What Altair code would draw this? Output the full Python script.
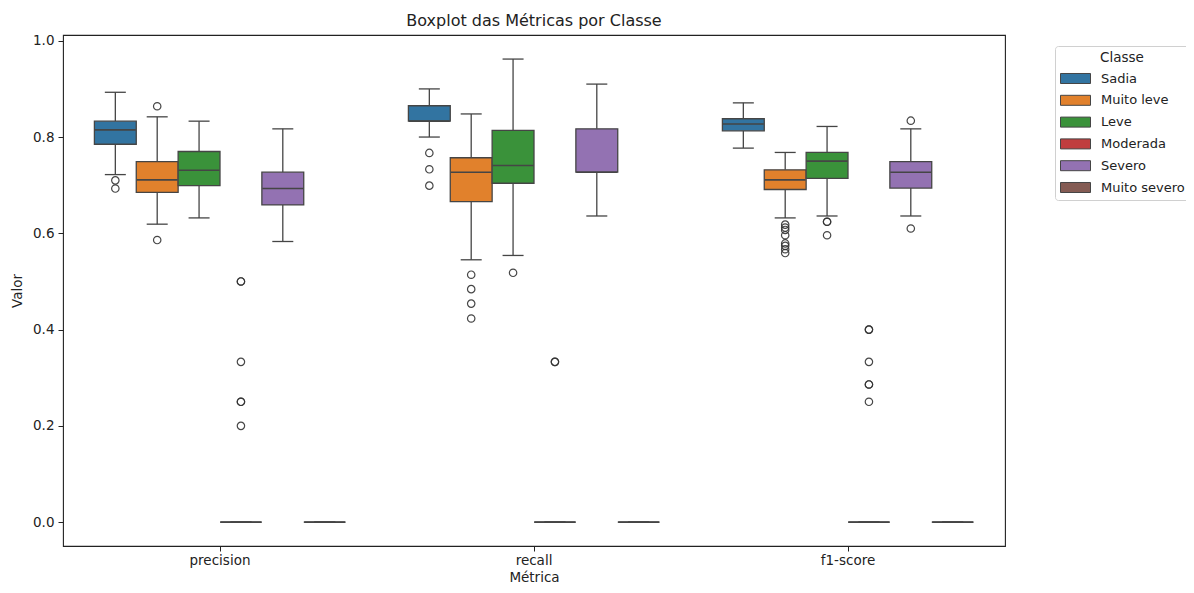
import altair as alt
import pandas as pd

metrics = ["precision", "recall", "f1-score"]
classes = ["Sadia", "Muito leve", "Leve", "Moderada", "Severo", "Muito severo"]
colors = ["#3274a1", "#e1812c", "#3a923a", "#c03d3e", "#9372b2", "#845b53"]

# box statistics per metric, in class order
q1 = {
    "precision": [0.785, 0.685, 0.699, 0.0, 0.659, 0.0],
    "recall":    [0.833, 0.666, 0.704, 0.0, 0.727, 0.0],
    "f1-score":  [0.813, 0.691, 0.714, 0.0, 0.694, 0.0],
}
median = {
    "precision": [0.815, 0.711, 0.731, 0.0, 0.693, 0.0],
    "recall":    [0.833, 0.727, 0.741, 0.0, 0.727, 0.0],
    "f1-score":  [0.827, 0.711, 0.750, 0.0, 0.727, 0.0],
}
q3 = {
    "precision": [0.833, 0.749, 0.770, 0.0, 0.727, 0.0],
    "recall":    [0.865, 0.757, 0.814, 0.0, 0.817, 0.0],
    "f1-score":  [0.838, 0.732, 0.768, 0.0, 0.749, 0.0],
}
whisker_low = {
    "precision": [0.722, 0.619, 0.632, 0.0, 0.583, 0.0],
    "recall":    [0.800, 0.545, 0.554, 0.0, 0.636, 0.0],
    "f1-score":  [0.777, 0.632, 0.636, 0.0, 0.636, 0.0],
}
whisker_high = {
    "precision": [0.893, 0.842, 0.833, 0.0, 0.817, 0.0],
    "recall":    [0.900, 0.848, 0.962, 0.0, 0.910, 0.0],
    "f1-score":  [0.871, 0.768, 0.822, 0.0, 0.817, 0.0],
}

# outliers: (metric, class) -> values
outliers = {
    ("precision", "Sadia"): [0.710, 0.693],
    ("precision", "Muito leve"): [0.864, 0.586],
    ("precision", "Moderada"): [0.5, 0.5, 0.333, 0.25, 0.25, 0.2],
    ("recall", "Sadia"): [0.767, 0.733, 0.699],
    ("recall", "Muito leve"): [0.514, 0.484, 0.454, 0.423],
    ("recall", "Leve"): [0.518],
    ("recall", "Moderada"): [0.333, 0.333],
    ("f1-score", "Muito leve"): [0.618, 0.612, 0.607, 0.596, 0.579, 0.574, 0.567, 0.559],
    ("f1-score", "Leve"): [0.624, 0.624, 0.596],
    ("f1-score", "Severo"): [0.834, 0.610],
    ("f1-score", "Moderada"): [0.4, 0.4, 0.333, 0.286, 0.286, 0.25],
}

rows = []
for m in metrics:
    for i, c in enumerate(classes):
        rows.append({
            "Métrica": m, "Classe": c,
            "q1": q1[m][i], "med": median[m][i], "q3": q3[m][i],
            "lo": whisker_low[m][i], "hi": whisker_high[m][i],
        })
df = pd.DataFrame(rows)

orows = []
for (m, c), vals in outliers.items():
    for v in vals:
        orows.append({"Métrica": m, "Classe": c, "v": v})
odf = pd.DataFrame(orows)

LINE = "#454545"
FONT = "DejaVu Sans"

x = alt.X("Métrica:N", sort=metrics, title="Métrica",
          scale=alt.Scale(paddingInner=0.2, paddingOuter=0.1),
          axis=alt.Axis(labelAngle=0, domain=False, tickColor="#222", tickSize=5,
                        labelPadding=2, labelFontSize=13.5, labelColor="#222",
                        titleFontSize=13.5, titleColor="#222", titleFontWeight="normal",
                        titleY=38, titleBaseline="bottom",
                        labelFont=FONT, titleFont=FONT))
xo = alt.XOffset("Classe:N", sort=classes, scale=alt.Scale(paddingInner=0, paddingOuter=0))
yscale = alt.Scale(domain=[-0.0496, 1.012], nice=False, zero=False)
yaxis = alt.Axis(values=[0, 0.2, 0.4, 0.6, 0.8, 1.0], format=".1f", grid=False, domain=False,
                 tickColor="#222", tickSize=5, labelPadding=4, labelFontSize=13.5,
                 labelColor="#222", titleFontSize=13.5, titleColor="#222",
                 titleFontWeight="normal", titlePadding=8, labelFont=FONT, titleFont=FONT)
color = alt.Color("Classe:N", sort=classes,
                  scale=alt.Scale(domain=classes, range=colors),
                  legend=alt.Legend(
                      title="Classe", orient="none", legendX=992, legendY=11,
                      symbolType="M-1,-0.667H3V0.667H-1Z", symbolSize=225,
                      symbolStrokeColor=LINE, symbolStrokeWidth=1, symbolOpacity=1,
                      labelOffset=25, rowPadding=5.8, padding=5,
                      titlePadding=6, titleAnchor="middle", titleFontSize=13.5,
                      titleFontWeight="normal", titleColor="#222", labelFontSize=13,
                      labelColor="#222", strokeColor="#d0d0d0", fillColor="white",
                      cornerRadius=3, labelFont=FONT, titleFont=FONT))

base = alt.Chart(df)

whisk_lo = base.mark_rule(color=LINE, strokeWidth=1.3).encode(
    x=x, xOffset=xo, y=alt.Y("lo:Q", scale=yscale, axis=yaxis, title="Valor"), y2="q1:Q")
whisk_hi = base.mark_rule(color=LINE, strokeWidth=1.3).encode(
    x=x, xOffset=xo, y=alt.Y("q3:Q", scale=yscale), y2="hi:Q")
boxes = base.mark_bar(stroke=LINE, strokeWidth=1.3, opacity=1).encode(
    x=x, xOffset=xo, y=alt.Y("q1:Q", scale=yscale), y2="q3:Q", color=color)
med = base.mark_tick(color=LINE, size=41, thickness=1.6, opacity=1).encode(
    x=x, xOffset=xo, y=alt.Y("med:Q", scale=yscale))
cap_lo = base.mark_tick(color=LINE, size=21, thickness=1.3, opacity=1).encode(
    x=x, xOffset=xo, y=alt.Y("lo:Q", scale=yscale))
cap_hi = base.mark_tick(color=LINE, size=21, thickness=1.3, opacity=1).encode(
    x=x, xOffset=xo, y=alt.Y("hi:Q", scale=yscale))
pts = alt.Chart(odf).mark_point(shape="circle", filled=False, color="#333", size=55,
                                strokeWidth=1.2, opacity=0.9).encode(
    x=x, xOffset=xo, y=alt.Y("v:Q", scale=yscale))

chart = alt.layer(whisk_lo, whisk_hi, boxes, med, cap_lo, cap_hi, pts).properties(
    width=942, height=511,
    title=alt.Title("Boxplot das Métricas por Classe", fontSize=16, fontWeight="normal",
                    color="#222", font=FONT, anchor="middle", offset=5),
    autosize=alt.AutoSizeParams(type="none"),
    padding={"left": 55, "top": 27, "right": 181, "bottom": 39},
    background="white",
).configure_view(stroke="#222", strokeWidth=1.1)

chart.save("out.html", embed_options={"renderer": "svg", "actions": False})
